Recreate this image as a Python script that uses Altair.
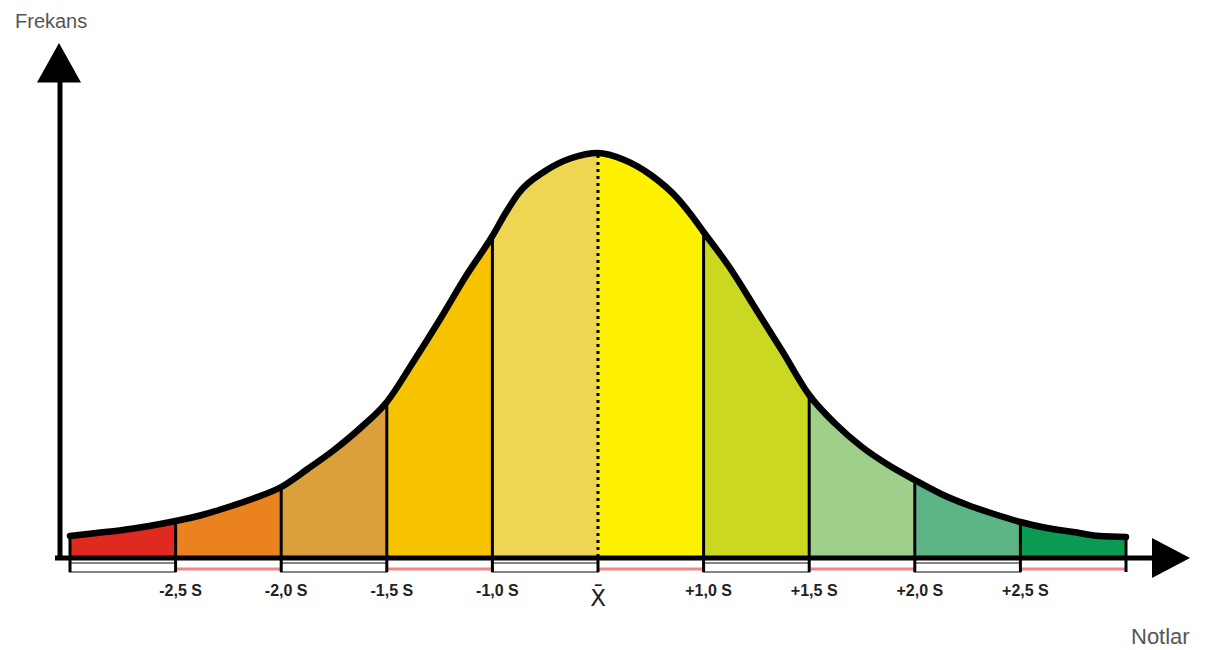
import altair as alt
import pandas as pd

# ---- data ----
# position along the x axis in segment units (boundaries at -5..5), curve height (frequency)
curve_x = [-5.0, -4.75, -4.5, -4.25, -4.0, -3.75, -3.5, -3.25, -3.0, -2.75, -2.5,
           -2.25, -2.0, -1.75, -1.5, -1.25, -1.0, -0.875, -0.75, -0.5, -0.25, 0.0,
           0.25, 0.5, 0.75, 0.875, 1.0, 1.25, 1.5, 1.75, 2.0, 2.25, 2.5,
           2.75, 3.0, 3.25, 3.5, 3.75, 4.0, 4.25, 4.5, 4.75, 5.0]
curve_y = [21, 24, 27, 31, 36, 42, 50, 59, 70, 88, 107,
           129, 155, 195, 237, 281, 321, 344, 364, 386, 399, 404,
           397, 382, 359, 343, 325, 289, 247, 205, 162, 133, 110,
           92, 77, 63, 52, 43, 35, 29, 25, 21, 20]

boundaries = [-5, -4, -3, -2, -1, 0, 1, 2, 3, 4, 5]
segment_colors = ["#e0291f", "#ea821f", "#dca03a", "#f7c300", "#eed552",
                  "#fff200", "#cad822", "#9ecf8b", "#5db585", "#0a9a51"]
tick_pos = [-4, -3, -2, -1, 0, 1, 2, 3, 4]
tick_labels = ["-2,5 S", "-2,0 S", "-1,5 S", "-1,0 S", "X\u0304",
               "+1,0 S", "+1,5 S", "+2,0 S", "+2,5 S"]
y_title = "Frekans"
x_title = "Notlar"

# ---- layout (pixels) ----
W, H = 1190, 642
BASE = 549  # baseline in chart pixels
X_DOMAIN = [-590 / 105.6, 600 / 105.6]
Y_DOMAIN = [BASE - H, BASE]

xs = alt.Scale(domain=X_DOMAIN, nice=False, zero=False)
ys = alt.Scale(domain=Y_DOMAIN, nice=False, zero=False)

height_at = dict(zip(curve_x, curve_y))

# segment areas
rows = []
seg_names = []
for i in range(10):
    lo, hi = boundaries[i], boundaries[i + 1]
    name = f"s{i}"
    seg_names.append(name)
    for x, y in zip(curve_x, curve_y):
        if lo <= x <= hi:
            rows.append({"x": x, "y": y, "seg": name})
area_df = pd.DataFrame(rows)
curve_df = pd.DataFrame({"x": curve_x, "y": curve_y})

INTERP = "monotone"

areas = alt.Chart(area_df).mark_area(interpolate=INTERP).encode(
    x=alt.X("x:Q", scale=xs, axis=None),
    y=alt.Y("y:Q", scale=ys, axis=None, stack=None),
    color=alt.Color("seg:N", scale=alt.Scale(domain=seg_names, range=segment_colors), legend=None),
)

# vertical boundary lines inside the curve
inner = [b for b in boundaries if b != 0]
bl_df = pd.DataFrame({"x": inner, "y": [height_at[b] for b in inner], "y0": [0] * len(inner)})
bound_rules = alt.Chart(bl_df).mark_rule(color="black", strokeWidth=3).encode(
    x=alt.X("x:Q", scale=xs), y=alt.Y("y0:Q", scale=ys), y2="y:Q")

mean_df = pd.DataFrame({"x": [0], "y": [height_at[0]], "y0": [0]})
mean_rule = alt.Chart(mean_df).mark_rule(color="black", strokeWidth=3, strokeDash=[3, 4]).encode(
    x=alt.X("x:Q", scale=xs), y=alt.Y("y0:Q", scale=ys), y2="y:Q")

curve = alt.Chart(curve_df).mark_line(color="black", strokeWidth=6.5, interpolate=INTERP,
                                      strokeJoin="round", strokeCap="round").encode(
    x=alt.X("x:Q", scale=xs), y=alt.Y("y:Q", scale=ys))

# strip under the axis
strip_box = pd.DataFrame({"x": boundaries[0:10:2], "x2": boundaries[1:11:2]})
strip_line = pd.DataFrame({"x": boundaries[1:10:2], "x2": boundaries[2:11:2]})
boxes = alt.Chart(strip_box).mark_rect(fill="white", stroke="#858585", strokeWidth=2).encode(
    x=alt.X("x:Q", scale=xs), x2="x2:Q",
    y=alt.value(BASE + 6), y2=alt.value(BASE + 15))
pinks = alt.Chart(strip_line).mark_rule(color="#ef8585", strokeWidth=3).encode(
    x=alt.X("x:Q", scale=xs), x2="x2:Q", y=alt.value(BASE + 12))
ticks_df = pd.DataFrame({"x": boundaries})
ticks = alt.Chart(ticks_df).mark_rule(color="black", strokeWidth=3).encode(
    x=alt.X("x:Q", scale=xs), y=alt.value(BASE), y2=alt.value(BASE + 15))

# axes with arrows (decorations, pixel positions)
one = pd.DataFrame({"a": [0]})
x_axis = alt.Chart(one).mark_rule(color="black", strokeWidth=5).encode(
    x=alt.value(47), x2=alt.value(1160), y=alt.value(BASE + 1))
y_axis = alt.Chart(one).mark_rule(color="black", strokeWidth=5).encode(
    x=alt.value(52), y=alt.value(BASE + 3), y2=alt.value(65))
x_arrow = alt.Chart(one).mark_point(
    shape="M1,0 L-0.9,-1 L-0.9,1 Z", filled=True, color="black", size=40 * 40, opacity=1).encode(
    x=alt.value(1162), y=alt.value(BASE + 1))
y_arrow = alt.Chart(one).mark_point(
    shape="M0,-1 L1,0.8 L-1,0.8 Z", filled=True, color="black", size=44 * 44, opacity=1).encode(
    x=alt.value(51), y=alt.value(57))

# tick labels
lab_df = pd.DataFrame({"x": tick_pos, "t": tick_labels,
                       "big": [t == "X\u0304" for t in tick_labels]})
labels = alt.Chart(lab_df[~lab_df["big"]]).mark_text(
    font="Liberation Sans", fontWeight="bold", fontSize=16, color="#222", dx=5).encode(
    x=alt.X("x:Q", scale=xs), y=alt.value(583), text="t:N")
mean_label = alt.Chart(lab_df[lab_df["big"]]).mark_text(
    font="DejaVu Sans", fontSize=23, color="#222").encode(
    x=alt.X("x:Q", scale=xs), y=alt.value(591), text="t:N")

ytitle = alt.Chart(pd.DataFrame({"t": [y_title]})).mark_text(
    font="Liberation Sans", fontSize=20, color="#555", align="left", baseline="middle").encode(
    x=alt.value(7), y=alt.value(14), text="t:N")
xtitle = alt.Chart(pd.DataFrame({"t": [x_title]})).mark_text(
    font="Liberation Sans", fontSize=22, color="#555", align="left", baseline="middle").encode(
    x=alt.value(1123), y=alt.value(629), text="t:N")

chart = alt.layer(
    areas, bound_rules, mean_rule, curve, boxes, pinks, ticks,
    x_axis, y_axis, x_arrow, y_arrow, labels, mean_label, ytitle, xtitle
).properties(
    width=W, height=H, autosize=alt.AutoSizeParams(type="none"), padding=0
).configure_view(stroke=None)

chart.save("out.html", embed_options={"renderer": "svg", "actions": False})
